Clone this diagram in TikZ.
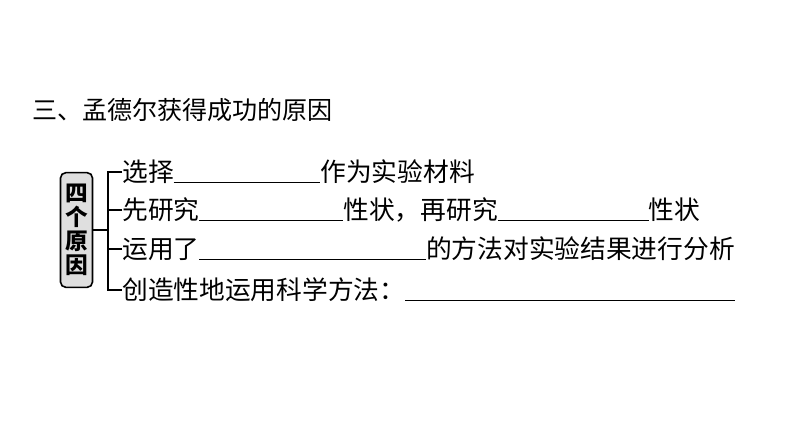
\documentclass[tikz,border=0pt]{standalone}
\usepackage{fontspec}
\setmainfont{Noto Sans CJK SC}
\newcommand{\blank}[1]{\rule[-1pt]{#1}{0.9pt}}
\tikzset{
  item/.style={anchor=west, inner sep=0pt, font=\fontsize{19.3}{21}\selectfont},
  reasonbox/.style={draw=black, line width=1.2pt, fill=gray!25, rounded corners=4pt,
    minimum width=24pt, minimum height=86pt, align=center, inner sep=2pt,
    font=\fontsize{17}{20}\selectfont\bfseries}
}
\begin{document}
\begin{tikzpicture}[x=0.75pt,y=-0.75pt]
  \useasboundingbox (0,0) rectangle (794,447);
  \node[item, font=\fontsize{18.8}{20}\selectfont] (title) at (32,110) {三、孟德尔获得成功的原因};

  \node[reasonbox] (box) at (76.5,230) {四\\[-2pt]个\\[-2pt]原\\[-2pt]因};

  \node[item] (l1) at (122,172) {选择\blank{110pt}作为实验材料};
  \node[item] (l2) at (122,210) {先研究\blank{108pt}性状，再研究\blank{113pt}性状};
  \node[item] (l3) at (122,249) {运用了\blank{170pt}的方法对实验结果进行分析};
  \node[item] (l4) at (122,290) {创造性地运用科学方法：\blank{247pt}};

  \coordinate (top) at (108,172);
  \coordinate (bot) at (108,290);
  \draw[line width=1pt] (box.east) -- (108,230);
  \draw[line width=1pt] (l1.west) -- (top) -- (bot) -- (l4.west);
  \draw[line width=1pt] (l2.west) -- (108,210);
  \draw[line width=1pt] (l3.west) -- (108,249);
\end{tikzpicture}
\end{document}
